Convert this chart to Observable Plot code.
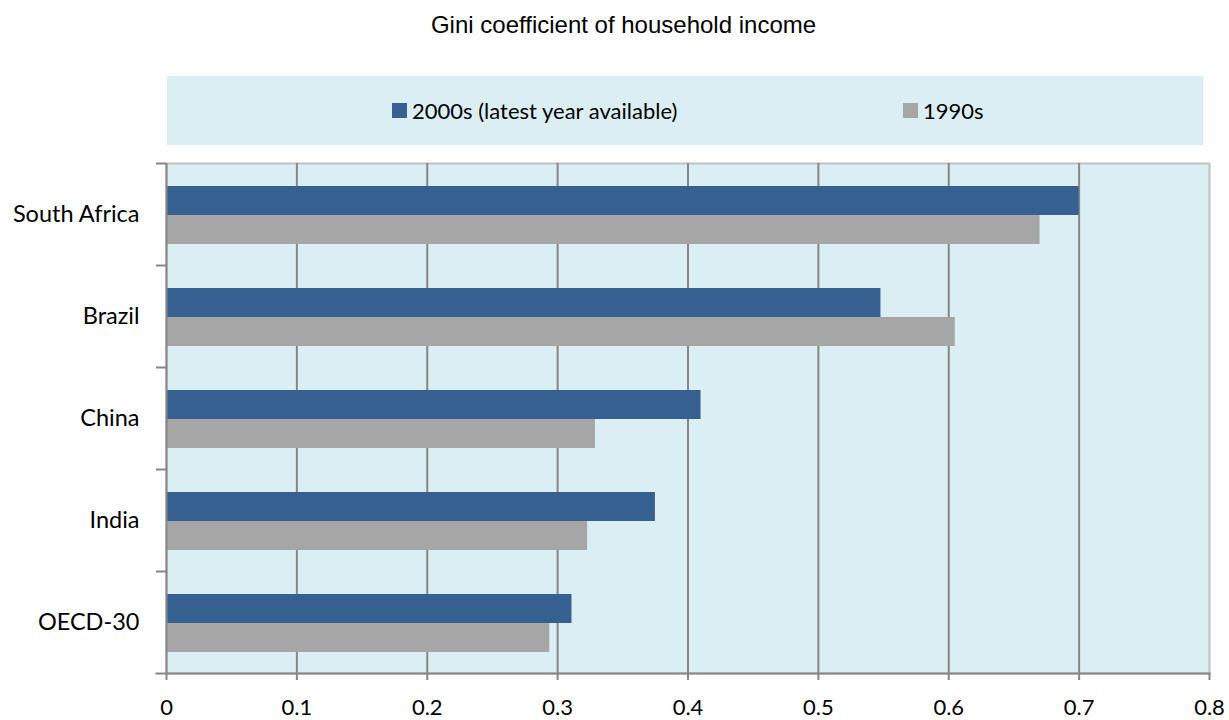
<!DOCTYPE html>
<html>
<head>
<meta charset="utf-8">
<script src="https://cdn.jsdelivr.net/npm/d3@7"></script>
<script src="https://cdn.jsdelivr.net/npm/@observablehq/plot@0.6"></script>
<style>
  html, body { margin: 0; padding: 0; background: #fff; }
  #wrap { position: relative; width: 1229px; height: 720px; overflow: hidden; }
  #title { position: absolute; left: 18px; top: 13px; width: 1211px; text-align: center;
    font-family: "Liberation Sans", Arial, sans-serif; font-size: 24px; line-height: 24px; color: #000; }
  #legend { position: absolute; left: 167px; top: 76px; width: 1036px; height: 69px; background: #dbeef3; }
  .item { position: absolute; top: 0; height: 69px; display: flex; align-items: center;
    font-family: Lato, "Open Sans", sans-serif; font-size: 22px; line-height: 26px; color: #000; }
  .sw { width: 15px; height: 15px; margin-right: 5px; margin-top: -1px; }
  #chart { position: absolute; left: 0; top: 150px; }
</style>
</head>
<body>
<div id="wrap">
  <div id="title"></div>
  <div id="legend"></div>
  <div id="chart"></div>
</div>
<script>
const title = "Gini coefficient of household income";
const countries = ["South Africa", "Brazil", "China", "India", "OECD-30"];
const seriesNames = ["2000s (latest year available)", "1990s"];
const seriesColors = ["#36608f", "#a6a6a6"];
const values2000s = [0.700, 0.548, 0.410, 0.375, 0.311];
const values1990s = [0.670, 0.605, 0.329, 0.323, 0.294];
const xTicks = [0, 0.1, 0.2, 0.3, 0.4, 0.5, 0.6, 0.7, 0.8];
const xTickLabels = ["0", "0.1", "0.2", "0.3", "0.4", "0.5", "0.6", "0.7", "0.8"];

document.getElementById("title").textContent = title;

const legend = document.getElementById("legend");
const legendLeft = [225, 736];
seriesNames.forEach((name, i) => {
  const it = document.createElement("div");
  it.className = "item";
  it.style.left = legendLeft[i] + "px";
  const sw = document.createElement("div");
  sw.className = "sw";
  sw.style.background = seriesColors[i];
  const tx = document.createElement("span");
  tx.textContent = name;
  it.appendChild(sw); it.appendChild(tx);
  legend.appendChild(it);
});

const rows2000 = countries.map((c, i) => ({country: c, value: values2000s[i], series: seriesNames[0]}));
const rows1990 = countries.map((c, i) => ({country: c, value: values1990s[i], series: seriesNames[1]}));
const gridTicks = xTicks.filter(t => t > 0 && t < 0.8);

const axisColor = "#868686";
const font = "Lato, 'Open Sans', sans-serif";

const chart = Plot.plot({
  width: 1229,
  height: 570,
  marginTop: 13,
  marginBottom: 47,
  marginLeft: 166,
  marginRight: 20,
  style: {fontFamily: font, fontSize: "22px", color: "#000", background: "transparent", overflow: "visible"},
  x: {domain: [0, 0.8], axis: null, label: null},
  y: {domain: countries, padding: 0, axis: null, label: null},
  color: {domain: seriesNames, range: seriesColors},
  marks: [
    Plot.frame({fill: "#dbeef3", stroke: "#bfbfbf", strokeWidth: 2}),
    Plot.ruleX(gridTicks, {stroke: axisColor, strokeWidth: 2}),
    Plot.barX(rows2000, {x: "value", y: "country", fill: "series", insetTop: 23, insetBottom: 50}),
    Plot.barX(rows1990, {x: "value", y: "country", fill: "series", insetTop: 52, insetBottom: 21}),
    Plot.ruleX([0], {stroke: axisColor, strokeWidth: 2}),
    Plot.frame({anchor: "bottom", stroke: axisColor, strokeWidth: 2, insetLeft: -10}),
    Plot.axisY({anchor: "left", label: null, tickSize: 10, text: null, stroke: axisColor, strokeWidth: 2, dy: -51}),
    Plot.axisY({anchor: "left", label: null, tickSize: 0, tickPadding: 27, fontSize: 23.5, fill: "#000"}),
    Plot.axisX({anchor: "bottom", label: null, ticks: xTicks, tickSize: 7, tickPadding: 19, stroke: axisColor, strokeWidth: 2,
      fontSize: 22, fill: "#000", tickFormat: (d) => xTickLabels[xTicks.indexOf(d)]})
  ]
});
document.getElementById("chart").appendChild(chart);
</script>
</body>
</html>
